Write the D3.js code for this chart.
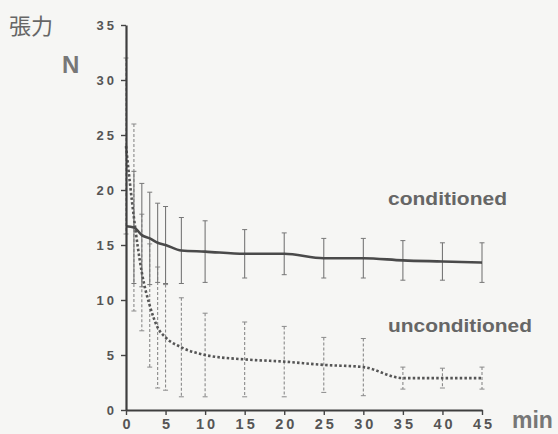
<!DOCTYPE html>
<html><head><meta charset="utf-8">
<script src="https://cdn.jsdelivr.net/npm/d3@7"></script>
<style>
html,body{margin:0;padding:0;background:#f6f6f4;}
svg{display:block;}
</style></head>
<body>
<svg id="chart" width="558" height="434"></svg>
<script>
const times = [0, 1, 2, 3, 4, 5, 7, 10, 15, 20, 25, 30, 35, 40, 45];
const conditionedMean = [16.7, 16.6, 15.9, 15.6, 15.2, 15.0, 14.5, 14.4, 14.2, 14.2, 13.8, 13.8, 13.6, 13.5, 13.4];
const conditionedSD   = [0, 5.1, 4.7, 4.2, 3.6, 3.5, 3.0, 2.8, 2.2, 1.9, 1.8, 1.8, 1.8, 1.7, 1.8];
const unconditionedMean = [24, 17.5, 12.5, 9.5, 7.5, 6.6, 5.7, 5.0, 4.6, 4.4, 4.1, 3.9, 2.9, 2.9, 2.9];
const unconditionedSD   = [8, 8.5, 5.3, 5.6, 5.5, 4.8, 4.5, 3.8, 3.4, 3.2, 2.5, 2.6, 1.0, 0.9, 1.0];
const xTicks = [0, 5, 10, 15, 20, 25, 30, 35, 40, 45];
const yTicks = [0, 5, 10, 15, 20, 25, 30, 35];

const svg = d3.select("#chart");
const x = d3.scaleLinear().domain([0, 45]).range([126, 482]);
const y = d3.scaleLinear().domain([0, 35]).range([410, 25]);

const tickFont = "'Liberation Sans', Arial, sans-serif";

// error bars
function errorBars(mean, sd, cls, color, dash) {
  const g = svg.append("g").attr("class", cls);
  times.forEach((t, i) => {
    if (!sd[i]) return;
    const cx = x(t), y1 = y(mean[i] + sd[i]), y2 = y(Math.max(0, mean[i] - sd[i]));
    g.append("line").attr("x1", cx).attr("x2", cx).attr("y1", y1).attr("y2", y2)
      .attr("stroke", color).attr("stroke-width", 1.1).attr("stroke-dasharray", dash);
    [y1, y2].forEach(yy => g.append("line").attr("x1", cx - 2.5).attr("x2", cx + 2.5)
      .attr("y1", yy).attr("y2", yy).attr("stroke", color).attr("stroke-width", 1));
  });
}
errorBars(unconditionedMean, unconditionedSD, "err-u", "#8a8a8a", "3,2");
errorBars(conditionedMean, conditionedSD, "err-c", "#777", null);

// lines
const line = d3.line().x((d, i) => x(times[i])).y(d => y(d)).curve(d3.curveMonotoneX);
svg.append("path").datum(unconditionedMean).attr("d", line)
  .attr("fill", "none").attr("stroke", "#555").attr("stroke-width", 2.6)
  .attr("stroke-dasharray", "2.5,2.2");
svg.append("path").datum(conditionedMean).attr("d", line)
  .attr("fill", "none").attr("stroke", "#4a4a4a").attr("stroke-width", 2.6);

// axes
const yAxis = svg.append("g").attr("transform", "translate(126,0)")
  .call(d3.axisLeft(y).tickValues(yTicks).tickSize(5).tickPadding(3).tickSizeOuter(0));
const xAxis = svg.append("g").attr("transform", "translate(0,410)")
  .call(d3.axisBottom(x).tickValues(xTicks).tickSize(5).tickPadding(4).tickSizeOuter(0));
[yAxis, xAxis].forEach(a => {
  a.select(".domain").attr("stroke", "#3e3e3e").attr("stroke-width", 2.2);
  a.selectAll(".tick line").attr("stroke", "#444").attr("stroke-width", 1.4);
  a.selectAll(".tick text").attr("fill", "#555").attr("font-family", tickFont)
    .attr("font-weight", "bold").attr("letter-spacing", "3px");
});
yAxis.selectAll(".tick text").attr("font-size", 13).attr("dx", "-1");
xAxis.selectAll(".tick text").attr("font-size", 14.5).attr("dx", "1.5");

// labels
svg.append("text").attr("x", 9).attr("y", 34).text("張力")
  .attr("font-family", "'Noto Sans CJK JP', sans-serif").attr("font-size", 22).attr("fill", "#666");
svg.append("text").attr("x", 62).attr("y", 73).text("N")
  .attr("font-family", tickFont).attr("font-size", 24).attr("fill", "#777").attr("font-weight", "bold");
svg.append("text").attr("x", 512).attr("y", 428).text("min")
  .attr("font-family", tickFont).attr("font-size", 23).attr("fill", "#777").attr("font-weight", "bold");
svg.append("text").attr("x", 388).attr("y", 205).text("conditioned")
  .attr("font-family", tickFont).attr("font-size", 18).attr("fill", "#666").attr("font-weight", "bold")
  .attr("textLength", 119).attr("lengthAdjust", "spacingAndGlyphs");
svg.append("text").attr("x", 388).attr("y", 332).text("unconditioned")
  .attr("font-family", tickFont).attr("font-size", 18).attr("fill", "#666").attr("font-weight", "bold")
  .attr("textLength", 144).attr("lengthAdjust", "spacingAndGlyphs");
</script>
</body></html>
